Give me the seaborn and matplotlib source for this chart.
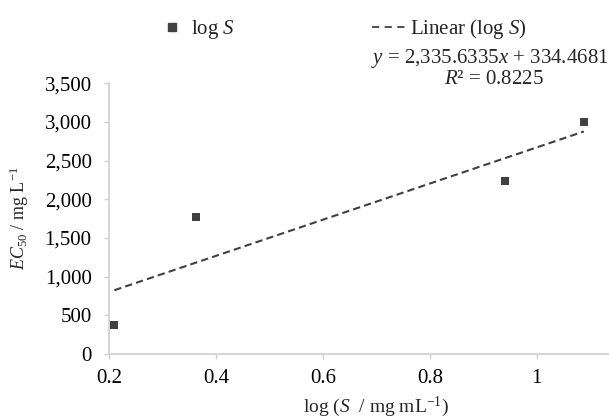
import numpy as np
import pandas as pd
import matplotlib
matplotlib.use("Agg")
import matplotlib.pyplot as plt
import seaborn as sns
from matplotlib.lines import Line2D
from matplotlib.ticker import FuncFormatter

# data
log_s = [0.21, 0.363, 0.94, 1.088]
ec50 = [380, 1770, 2240, 3000]
slope = 2335.6335
intercept = 334.4681
r2 = 0.8225
x_ticks = [0.2, 0.4, 0.6, 0.8, 1.0]
y_ticks = [0, 500, 1000, 1500, 2000, 2500, 3000, 3500]

sns.set_theme(style="white")
plt.rcParams["font.family"] = ["Liberation Serif", "DejaVu Serif"]
plt.rcParams["mathtext.fontset"] = "custom"
plt.rcParams["mathtext.rm"] = "Liberation Serif"
plt.rcParams["mathtext.it"] = "Liberation Serif:italic"
plt.rcParams["font.size"] = 15

df = pd.DataFrame({"x": log_s, "y": ec50})
xs = np.array([min(log_s), max(log_s)])
trend = pd.DataFrame({"x": xs, "y": slope * xs + intercept})

fig = plt.figure(figsize=(6.09, 4.20), dpi=100)
ax = fig.add_axes([0.179, 0.157, 0.821, 0.645])

dark = "#404040"
sns.lineplot(data=trend, x="x", y="y", ax=ax, color=dark, lw=1.5,
             linestyle=(0, (3.5, 2)))
sns.scatterplot(data=df, x="x", y="y", ax=ax, marker="s", s=36,
                color=dark, edgecolor=dark, linewidth=0)

ax.set_xlim(0.2, 1.135)
ax.set_ylim(0, 3500)
ax.set_xticks(x_ticks)
ax.set_yticks(y_ticks)
ax.xaxis.set_major_formatter(FuncFormatter(lambda v, p: "1" if v == 1 else f"{v:.1f}"))
ax.yaxis.set_major_formatter(FuncFormatter(lambda v, p: f"{int(v):,}"))

for side in ["top", "right"]:
    ax.spines[side].set_visible(False)
for side in ["left", "bottom"]:
    ax.spines[side].set_color("#d0d0d0")
    ax.spines[side].set_linewidth(1.2)
ax.tick_params(axis="both", direction="out", length=3.5, width=1.0,
               color="#d0d0d0", labelsize=15, labelcolor="black",
               left=True, bottom=True)
ax.tick_params(axis="y", pad=9)
ax.tick_params(axis="x", pad=7)

ax.set_xlabel("log ($S$  / mg mL$^{-1}$)", fontsize=14, labelpad=5,
              x=(376 - 109) / 500)
ax.set_ylabel("$EC$$_{50}$ / mg L$^{-1}$", fontsize=13, labelpad=10)

handles = [
    Line2D([], [], marker="s", color=dark, linestyle="none", markersize=6),
    Line2D([], [], color=dark, lw=1.3, linestyle=(0, (4, 3))),
]
fig.legend(handles, ["log $S$", "Linear (log $S$)"], loc="center",
           bbox_to_anchor=(340 / 609, 1 - 29 / 420), ncol=2, frameon=False,
           fontsize=15, handlelength=1.8, handletextpad=0.0,
           columnspacing=6.6)

fig.text(490 / 609, 1 - 58 / 420, f"$y$ = {slope:,.4f}$x$ + {intercept:.4f}",
         ha="center", va="center", fontsize=15)
fig.text(494 / 609, 1 - 80 / 420, f"$R$² = {r2:.4f}",
         ha="center", va="center", fontsize=15)

fig.savefig("out.png", dpi=100)
